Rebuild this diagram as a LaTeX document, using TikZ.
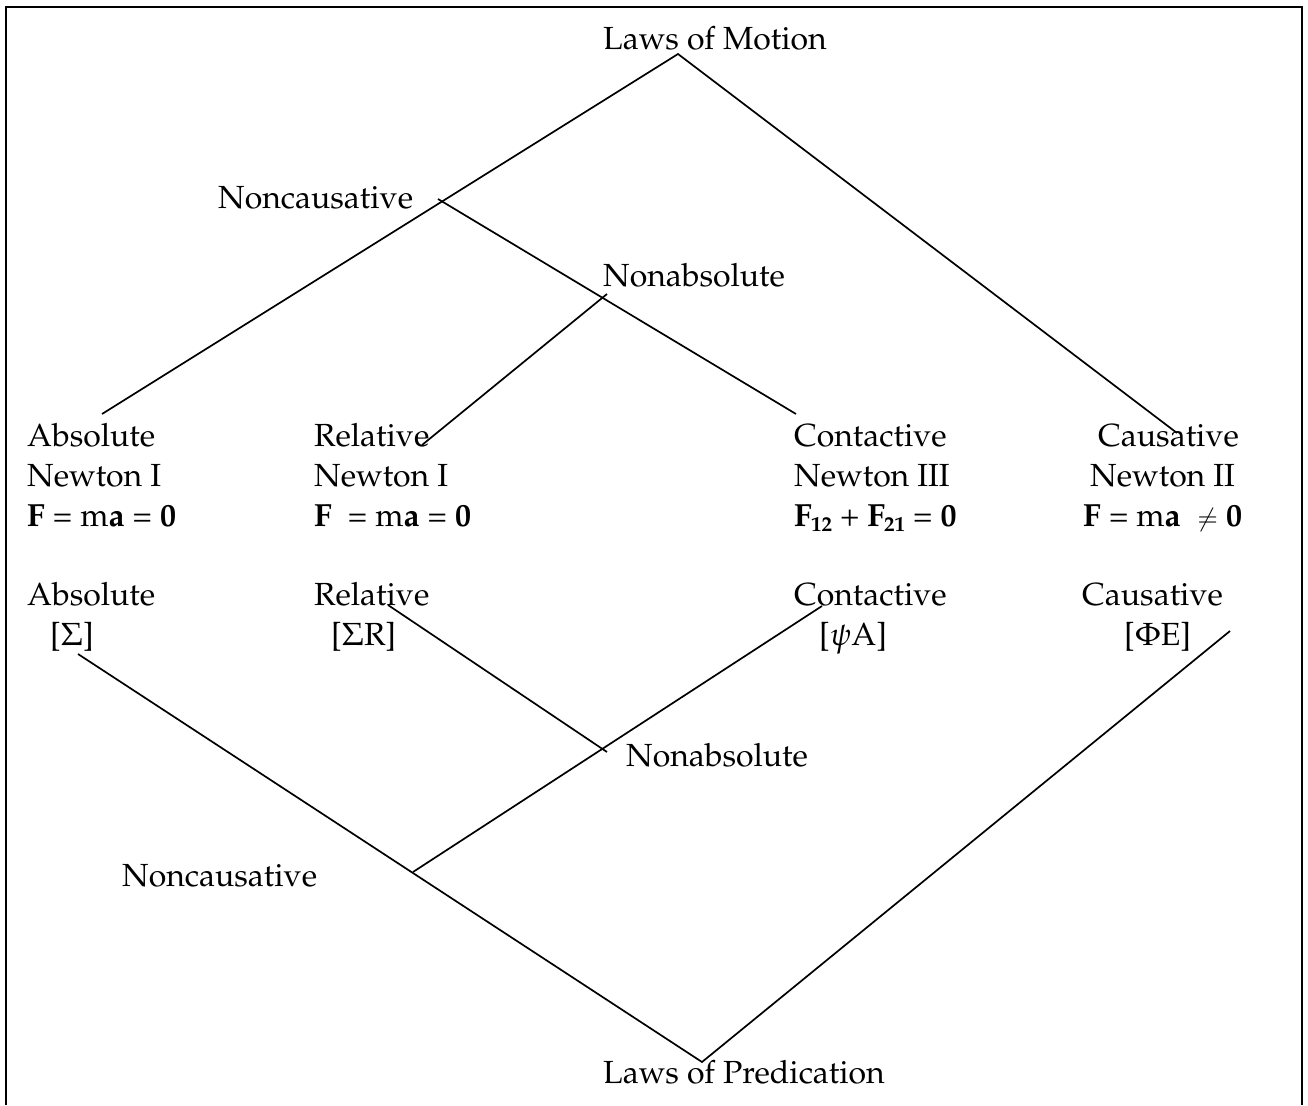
\documentclass[tikz,border=0pt]{standalone}
\usepackage[T1]{fontenc}
\usepackage{mathpazo}
\begin{document}
\begin{tikzpicture}[x=1pt,y=-1pt,
  lbl/.style={anchor=base west,inner sep=0pt,font=\fontsize{32}{38}\selectfont},
  ln/.style={line width=1.7pt},
  frm/.style={line width=2pt}]
\useasboundingbox (0,0) rectangle (1308,1105);
% frame (open at bottom)
\coordinate (fbl) at (6,1105);
\coordinate (ftl) at (6,7);
\coordinate (ftr) at (1302,7);
\coordinate (fbr) at (1302,1105);
\draw[frm] (fbl) -- (ftl) -- (ftr) -- (fbr);
% labels
\node[lbl] (motion) at (603,50) {Laws of Motion};
\node[lbl] (ncu) at (218,208) {Noncausative};
\node[lbl] (nau) at (603,286) {Nonabsolute};
\node[lbl] (abs1) at (27,446) {Absolute};
\node[lbl] (abs2) at (27,486) {Newton I};
\node[lbl] (abs3) at (27,526) {\textbf{F} = m\textbf{a} = \textbf{0}};
\node[lbl] (rel1) at (314,446) {Relative};
\node[lbl] (rel2) at (314,486) {Newton I};
\node[lbl] (rel3) at (314,526) {\textbf{F}\ \ = m\textbf{a} = \textbf{0}};
\node[lbl] (con1) at (794,446) {Contactive};
\node[lbl] (con2) at (794,486) {Newton III};
\node[lbl] (con3) at (794,526) {\textbf{F}\kern-1pt\raisebox{-5pt}{\fontsize{21}{24}\selectfont\textbf{12}} + \textbf{F}\kern-1pt\raisebox{-5pt}{\fontsize{21}{24}\selectfont\textbf{21}} = \textbf{0}};
\node[lbl] (cau1) at (1098,446) {Causative};
\node[lbl] (cau2) at (1090,486) {Newton II};
\node[lbl] (cau3) at (1083,526) {\textbf{F} = m\textbf{a}\ \ {\fontsize{25}{30}\selectfont$\neq$} \textbf{0}};
\node[lbl] (labs) at (27,605) {Absolute};
\node[lbl] (labsg) at (50,645) {[$\Sigma$]};
\node[lbl] (lrel) at (314,605) {Relative};
\node[lbl] (lrelg) at (331,645) {[$\Sigma$R]};
\node[lbl] (lcon) at (794,605) {Contactive};
\node[lbl] (lcong) at (819,645) {[$\psi$A]};
\node[lbl] (lcau) at (1082,605) {Causative};
\node[lbl] (lcaug) at (1124,645) {[$\Phi$E]};
\node[lbl] (nal) at (626,766) {Nonabsolute};
\node[lbl] (ncl) at (122,886) {Noncausative};
\node[lbl] (pred) at (603,1083) {Laws of Predication};
% upper tree
\coordinate (top) at (678,54);
\coordinate (tabs) at (102,414);
\coordinate (tcau) at (1177,433);
\coordinate (jnc) at (438,199);
\coordinate (tcon) at (796,414);
\coordinate (jna) at (607,294);
\coordinate (trel) at (422,445);
\draw[ln] (tabs) -- (top) -- (tcau);
\draw[ln] (jnc) -- (tcon);
\draw[ln] (jna) -- (trel);
% lower tree
\coordinate (bot) at (702,1062);
\coordinate (babs) at (78,654);
\coordinate (bcau) at (1230,631);
\coordinate (bjnc) at (413,872);
\coordinate (bcon) at (822,606);
\coordinate (brel) at (388,605);
\coordinate (bjna) at (607,752);
\draw[ln] (babs) -- (bot) -- (bcau);
\draw[ln] (bjnc) -- (bcon);
\draw[ln] (brel) -- (bjna);
\end{tikzpicture}
\end{document}
